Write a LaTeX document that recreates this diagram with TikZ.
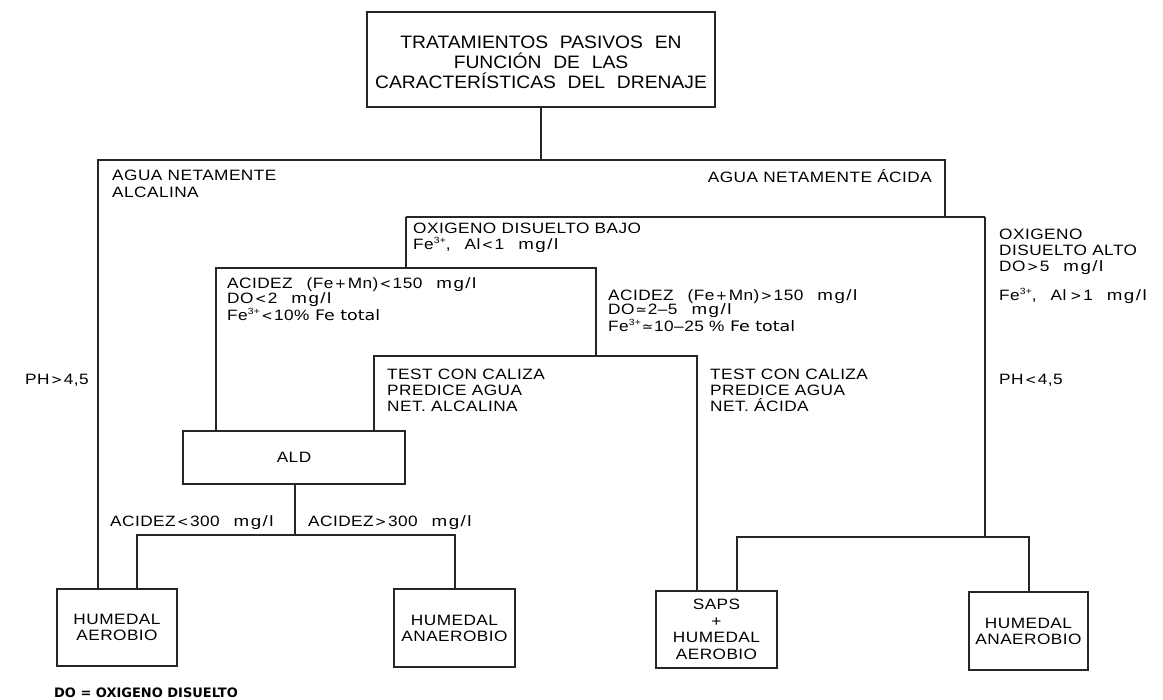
\documentclass[tikz,border=0pt]{standalone}
\usepackage{fontspec}
\setmainfont{Liberation Sans}
\newfontfamily\cadfont[FakeStretch=1.15,LetterSpace=3,WordSpace=3.2]{Liberation Sans}
\newfontfamily\cadboxfont[FakeStretch=1.15,LetterSpace=3]{Liberation Sans}
\newfontfamily\rootfont[FakeStretch=1.07,WordSpace=2.2]{Liberation Sans}
\newfontfamily\mglfont[FakeStretch=1.25,LetterSpace=10]{Liberation Sans}
\newfontfamily\mysymfont{DejaVu Sans}
\newfontfamily\verdfont[FakeStretch=1.2]{DejaVu Sans}
\newfontfamily\notefont{DejaVu Sans}
\newcommand\supr[1]{\raisebox{0.42em}{\fontsize{9}{9}\selectfont #1}}
\newcommand\approxsym{\hspace{1pt}{\mysymfont\fontsize{13.5}{13.5}\selectfont ≃}\hspace{1pt}}
\newcommand\sy[1]{\hspace{1.5pt}{\mysymfont\fontsize{13.5}{13.5}\selectfont #1}\hspace{1.5pt}}
\newcommand\wg{\hspace{14pt}}
\newcommand\mgl{{\mglfont mg/l}}
\newcommand\fetotal{{\verdfont\fontsize{14.5}{14.5}\selectfont\ Fe total}}
\begin{document}
\begin{tikzpicture}[x=1pt,y=-1pt,
  wire/.style={line width=1.2pt, draw=black!85, line join=miter},
  boxnode/.style={draw=black!85, line width=1.2pt, inner sep=0pt, align=center, font=\cadboxfont\fontsize{15}{16}\selectfont},
  lbl/.style={inner sep=0pt, align=left, anchor=base west, font=\cadfont\fontsize{15}{16}\selectfont},
  sk/.style={font=\cadfont\fontsize{15}{#1}\selectfont},
  roottext/.style={inner sep=0pt, align=center, font=\rootfont\fontsize{18}{20}\selectfont},
  notestyle/.style={inner sep=0pt, anchor=base west, font=\notefont\bfseries\fontsize{13}{13}\selectfont}]
\useasboundingbox (0,0) rectangle (1163,700);

% boxes
\node[boxnode, minimum width=348pt, minimum height=95pt] (root) at (541,59.5) {};
\node[roottext] (roottxt) at (541,62.5)
      {TRATAMIENTOS PASIVOS EN\\FUNCIÓN DE LAS\\CARACTERÍSTICAS DEL DRENAJE};
\node[boxnode, minimum width=222pt, minimum height=53pt] (ald) at (294,457.5) {ALD};
\node[boxnode, minimum width=120pt, minimum height=77pt] (aer) at (117,627.5) {HUMEDAL\\AEROBIO};
\node[boxnode, minimum width=121pt, minimum height=78pt] (ana1) at (454.5,628) {HUMEDAL\\ANAEROBIO};
\node[boxnode, minimum width=121pt, minimum height=77pt,
      font=\cadboxfont\fontsize{15}{16.5}\selectfont] (saps) at (716.5,629.5) {SAPS\\+\\HUMEDAL\\AEROBIO};
\node[boxnode, minimum width=119pt, minimum height=78pt] (ana2) at (1028.5,631) {HUMEDAL\\ANAEROBIO};

% junction coordinates
\coordinate (t0) at (541,160);
\coordinate (tL) at (98,160);
\coordinate (tR) at (945,160);
\coordinate (oxL) at (406,217);
\coordinate (oxR) at (985,217);
\coordinate (a1) at (406,268);
\coordinate (a1L) at (216,268);
\coordinate (a1R) at (596,268);
\coordinate (tc) at (596,356);
\coordinate (tcL) at (374,356);
\coordinate (tcR) at (697,356);
\coordinate (hiB) at (985,537);
\coordinate (hiL) at (737,537);
\coordinate (hiR) at (1029,537);
\coordinate (ac) at (295,535);
\coordinate (acL) at (137,535);
\coordinate (acR) at (455,535);

% connectors
\draw[wire] (root.south) -- (t0);
\draw[wire] (tL |- aer.north) -- (tL) -- (tR) -- (tR |- oxL);
\draw[wire] (oxL) -- (oxR);
\draw[wire] (oxL) -- (a1);
\draw[wire] (a1L |- ald.north) -- (a1L) -- (a1R) -- (tc);
\draw[wire] (tcL |- ald.north) -- (tcL) -- (tcR) -- (tcR |- saps.north);
\draw[wire] (oxR) -- (hiB);
\draw[wire] (hiL |- saps.north) -- (hiL) -- (hiR) -- (hiR |- ana2.north);
\draw[wire] (ald.south -| ac) -- (ac);
\draw[wire] (acL |- aer.north) -- (acL) -- (acR) -- (acR |- ana1.north);

% labels (anchor = baseline of the last line)
\node[lbl, sk=17] (alc) at (112,197.5) {AGUA NETAMENTE\\ALCALINA};
\node[lbl, anchor=base east] (aci) at (932,182.5) {AGUA NETAMENTE ÁCIDA};
\node[lbl, sk=15.5] (oxb) at (413,249.5) {OXIGENO DISUELTO BAJO\\Fe\supr{3+},\wg Al\sy{<}1\wg\mgl};
\node[lbl, sk=15] (acl) at (227,320.5) {ACIDEZ\wg(Fe\sy{+}Mn)\sy{<}150\wg\mgl\\DO\sy{<}2\wg\mgl\\Fe\supr{3+}\sy{<}10\%\fetotal};
\node[lbl, sk=14] (ach) at (608,331.5) {ACIDEZ\wg(Fe\sy{+}Mn)\sy{>}150\wg\mgl\\DO\approxsym2–5\wg\mgl\\Fe\supr{3+}\approxsym10–25 \%\fetotal};
\node[lbl, sk=16] (tcal) at (387,411.5) {TEST CON CALIZA\\PREDICE AGUA\\NET. ALCALINA};
\node[lbl, sk=16] (tcac) at (710,411.5) {TEST CON CALIZA\\PREDICE AGUA\\NET. ÁCIDA};
\node[lbl, sk=16] (oxa) at (999,271.5) {OXIGENO\\DISUELTO ALTO\\DO\sy{>}5\wg\mgl};
\node[lbl] (fea) at (999,300.5) {Fe\supr{3+},\wg Al\,\sy{>}1\wg\mgl};
\node[lbl] (phl) at (999,384.5) {PH\sy{<}4,5};
\node[lbl] (phh) at (25,384.5) {PH\sy{>}4,5};
\node[lbl] (a300l) at (110,526.5) {ACIDEZ\sy{<}300\wg\mgl};
\node[lbl] (a300h) at (308,526.5) {ACIDEZ\sy{>}300\wg\mgl};
\node[notestyle] (note) at (54,697) {DO = OXIGENO DISUELTO};
\end{tikzpicture}
\end{document}
